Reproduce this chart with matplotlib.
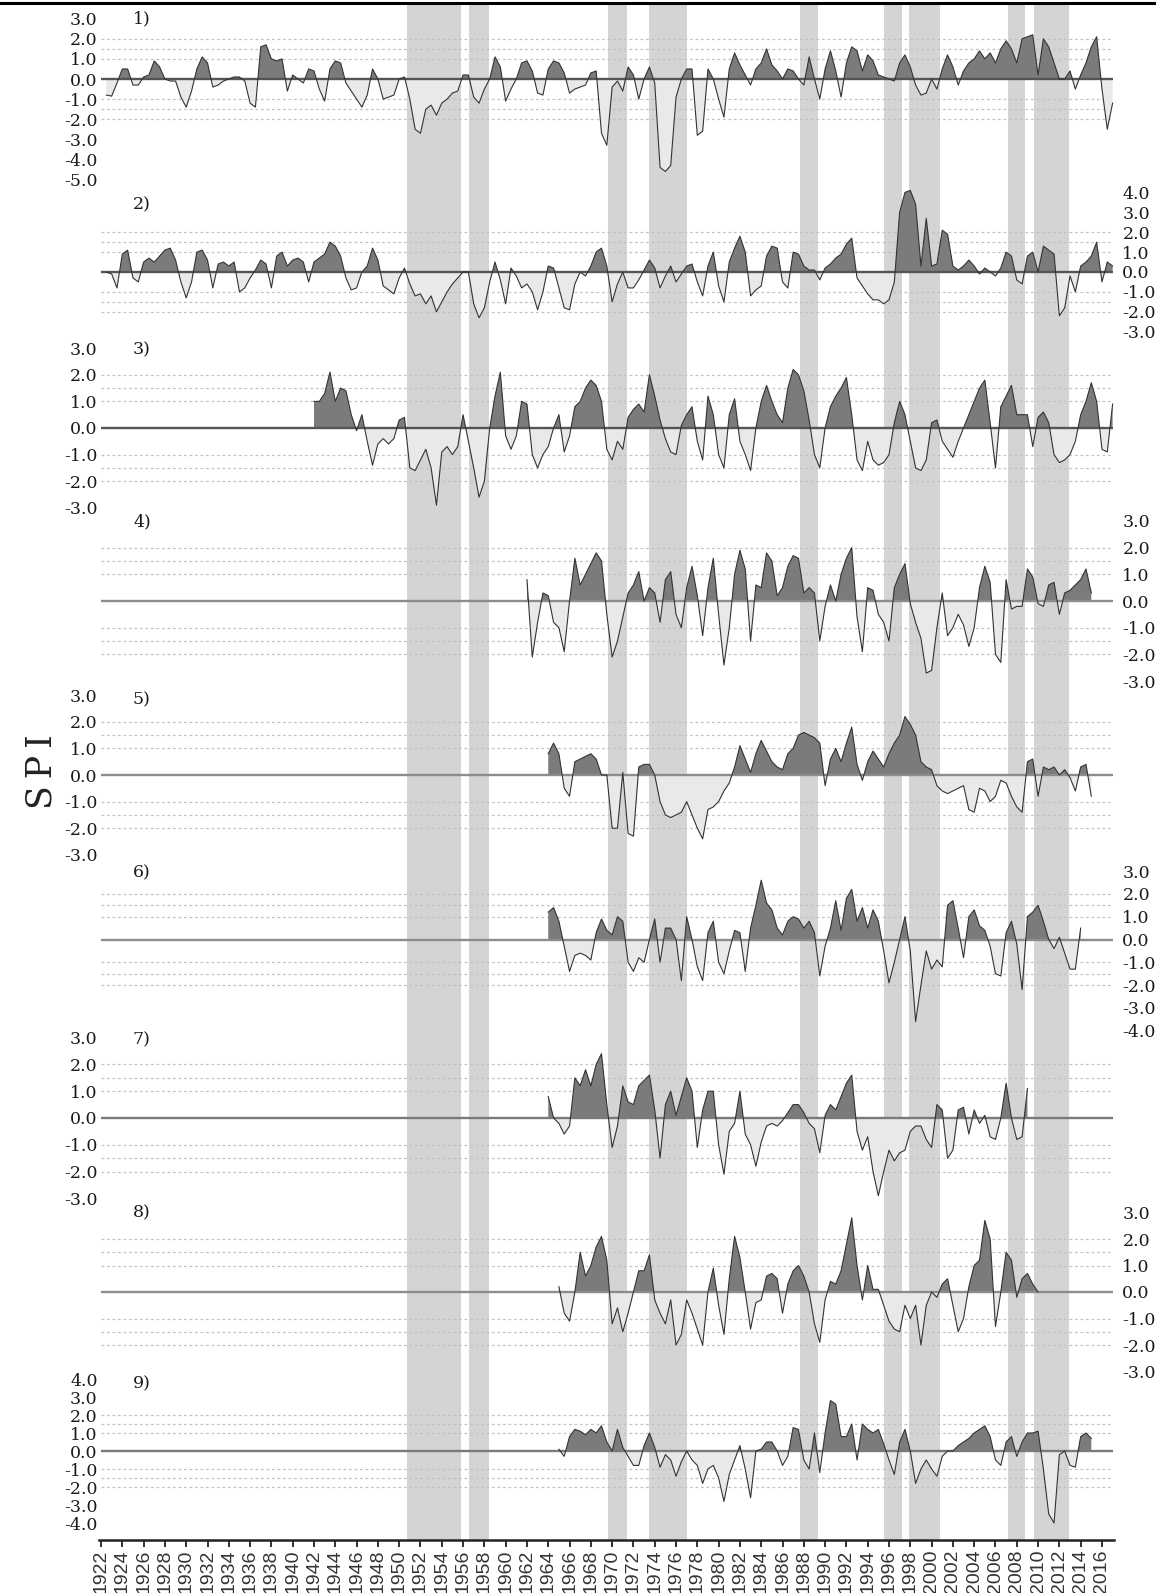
import matplotlib
matplotlib.use("Agg")
import matplotlib.pyplot as plt
import numpy as np
from matplotlib.lines import Line2D

# ---------------- data (SPI values, half-year steps) ----------------
P1_START = 1922.5
P1 = [-0.8, -0.85, -0.2, 0.5, 0.5, -0.3, -0.3, 0.1, 0.2, 0.9,
      0.6, 0.0, -0.1, -0.1, -0.9, -1.4, -0.6, 0.5, 1.1, 0.8,
      -0.4, -0.3, -0.1, 0.0, 0.1, 0.1, -0.1, -1.2, -1.4, 1.6,
      1.7, 1.0, 0.9, 1.0, -0.6, 0.2, 0.0, -0.2, 0.5, 0.4,
      -0.5, -1.1, 0.5, 0.9, 0.8, -0.2, -0.6, -1.0, -1.4, -0.8,
      0.5, 0.0, -1.0, -0.9, -0.8, 0.0, 0.1, -1.0, -2.5, -2.7,
      -1.5, -1.3, -1.8, -1.2, -1.0, -0.7, -0.6, 0.2, 0.2, -0.9,
      -1.2, -0.5, 0.0, 1.1, 0.6, -1.1, -0.5, 0.0, 0.8, 0.9,
      0.4, -0.7, -0.8, 0.5, 0.9, 0.8, 0.3, -0.7, -0.5, -0.4,
      -0.3, 0.3, 0.4, -2.7, -3.3, -0.4, -0.1, -0.6, 0.6, 0.2,
      -1.0, 0.0, 0.6, -0.2, -4.4, -4.6, -4.3, -0.9, 0.0, 0.5,
      0.5, -2.8, -2.6, 0.5, 0.0, -1.0, -1.9, 0.5, 1.3, 0.7,
      0.2, -0.3, 0.5, 0.8, 1.5, 0.7, 0.4, 0.0, 0.5, 0.4,
      0.0, -0.3, 1.1, 0.0, -1.0, 0.5, 1.4, 0.4, -0.9, 0.8,
      1.6, 1.4, 0.4, 1.2, 0.9, 0.2, 0.1, 0.0, -0.1, 0.8,
      1.2, 0.6, -0.3, -0.8, -0.7, 0.0, -0.5, 0.5, 1.2, 0.6,
      -0.3, 0.4, 0.8, 1.0, 1.4, 1.0, 1.3, 0.8, 1.5, 1.9,
      1.5, 0.8, 2.0, 2.1, 2.2, 0.2, 2.0, 1.6, 0.8, 0.0,
      0.0, 0.4, -0.5, 0.2, 0.8, 1.6, 2.1, -0.5, -2.5, -1.2]

P2_START = 1922.5
P2 = [0.0, -0.1, -0.8, 0.9, 1.1, -0.3, -0.5, 0.5, 0.7, 0.5,
      0.8, 1.1, 1.2, 0.6, -0.5, -1.3, -0.5, 1.0, 1.1, 0.6,
      -0.8, 0.4, 0.5, 0.3, 0.5, -1.0, -0.8, -0.3, 0.1, 0.6,
      0.4, -0.8, 0.8, 1.0, 0.3, 0.6, 0.7, 0.5, -0.5, 0.5,
      0.7, 0.9, 1.5, 1.3, 0.8, -0.3, -0.9, -0.8, 0.0, 0.3,
      1.2, 0.6, -0.7, -0.9, -1.1, -0.3, 0.2, -0.6, -1.2, -1.1,
      -1.6, -1.2, -2.0, -1.5, -1.0, -0.6, -0.3, 0.0, 0.0, -1.6,
      -2.3, -1.8, -0.5, 0.5, -0.4, -1.6, 0.2, -0.2, -0.8, -0.6,
      -1.0, -1.9, -1.0, 0.3, 0.2, -0.8, -1.8, -1.9, -0.6, 0.0,
      -0.2, 0.3, 1.0, 1.2, 0.3, -1.5, -0.6, 0.0, -0.8, -0.8,
      -0.4, 0.1, 0.6, 0.2, -0.8, -0.2, 0.3, -0.5, -0.1, 0.3,
      0.4, -0.5, -1.2, 0.3, 1.0, -0.7, -1.5, 0.5, 1.2, 1.8,
      1.0, -1.2, -0.9, -0.7, 0.8, 1.3, 1.2, -0.5, -0.8, 1.0,
      0.9, 0.3, 0.1, 0.1, -0.4, 0.2, 0.4, 0.7, 0.9, 1.4,
      1.7, -0.3, -0.7, -1.1, -1.4, -1.4, -1.6, -1.4, -0.5, 3.0,
      4.0, 4.1, 3.4, 0.3, 2.7, 0.3, 0.4, 2.1, 1.9, 0.3,
      0.1, 0.3, 0.6, 0.3, -0.1, 0.2, 0.0, -0.2, 0.2, 1.0,
      0.8, -0.4, -0.6, 0.8, 1.0, 0.0, 1.3, 1.1, 0.9, -2.2,
      -1.8, -0.2, -1.0, 0.3, 0.5, 0.8, 1.5, -0.5, 0.5, 0.3]

P3_START = 1942.0
P3 = [1.0, 1.0, 1.3, 2.1, 1.0, 1.5, 1.4, 0.5, -0.1, 0.5,
      -0.5, -1.4, -0.6, -0.4, -0.6, -0.4, 0.3, 0.4, -1.5, -1.6,
      -1.2, -0.8, -1.5, -2.9, -0.9, -0.7, -1.0, -0.7, 0.5, -0.5,
      -1.5, -2.6, -2.0, 0.0, 1.2, 2.1, -0.3, -0.8, -0.3, 1.0,
      0.9, -1.0, -1.5, -1.0, -0.7, 0.0, 0.5, -0.9, -0.3, 0.8,
      1.0, 1.5, 1.8, 1.6, 1.0, -0.8, -1.2, -0.5, -0.8, 0.4,
      0.7, 0.9, 0.6, 2.0, 1.2, 0.3, -0.4, -0.9, -1.0, 0.1,
      0.5, 0.8, -0.5, -1.2, 1.2, 0.5, -1.0, -1.5, 0.5, 1.1,
      -0.5, -1.0, -1.6, 0.0, 1.0, 1.6, 1.0, 0.5, 0.2, 1.5,
      2.2, 2.0, 1.4, 0.3, -1.0, -1.5, 0.0, 0.8, 1.2, 1.5,
      1.9, 0.5, -1.2, -1.6, -0.5, -1.2, -1.4, -1.3, -1.0, 0.2,
      1.0, 0.5, -0.5, -1.5, -1.6, -1.2, 0.2, 0.3, -0.5, -0.8,
      -1.1, -0.5, 0.0, 0.5, 1.0, 1.5, 1.8, 0.2, -1.5, 0.8,
      1.2, 1.6, 0.5, 0.5, 0.5, -0.7, 0.4, 0.6, 0.2, -1.0,
      -1.3, -1.2, -1.0, -0.5, 0.5, 1.0, 1.7, 1.0, -0.8, -0.9,
      0.9]

P4_START = 1962.0
P4 = [0.8, -2.1, -0.8, 0.3, 0.2, -0.8, -1.0, -1.9, 0.0, 1.6,
      0.6, 1.0, 1.4, 1.8, 1.5, -0.5, -2.1, -1.5, -0.6, 0.3,
      0.6, 1.1, 0.0, 0.5, 0.3, -0.8, 0.8, 1.1, -0.5, -1.0,
      0.5, 1.3, 0.2, -1.3, 0.5, 1.6, -0.5, -2.4, -1.0, 1.0,
      1.9, 1.2, -1.5, 0.6, 0.5, 1.8, 1.5, 0.2, 0.5, 1.3,
      1.7, 1.6, 0.3, 0.5, 0.3, -1.5, -0.2, 0.6, 0.0, 1.0,
      1.6, 2.0, -0.6, -1.9, 0.5, 0.4, -0.5, -0.8, -1.5, 0.5,
      1.0, 1.4, -0.1, -0.8, -1.4, -2.7, -2.6, -1.0, 0.3, -1.3,
      -1.0, -0.5, -0.9, -1.7, -1.0, 0.5, 1.3, 0.7, -2.0, -2.3,
      0.8, -0.3, -0.2, -0.2, 1.2, 0.9, -0.1, -0.2, 0.6, 0.7,
      -0.5, 0.3, 0.4, 0.6, 0.8, 1.2, 0.3]

P5_START = 1964.0
P5 = [0.8, 1.2, 0.8, -0.5, -0.8, 0.5, 0.6, 0.7, 0.8, 0.6,
      0.0, 0.0, -2.0, -2.0, 0.1, -2.2, -2.3, 0.3, 0.4, 0.4,
      0.0, -1.0, -1.5, -1.6, -1.5, -1.4, -1.0, -1.5, -2.0, -2.4,
      -1.3, -1.2, -1.0, -0.6, -0.3, 0.3, 1.1, 0.6, 0.1, 0.8,
      1.3, 0.9, 0.5, 0.3, 0.2, 0.8, 1.0, 1.5, 1.6, 1.5,
      1.4, 1.2, -0.4, 0.6, 1.0, 0.5, 1.2, 1.8, 0.4, -0.2,
      0.5, 0.9, 0.6, 0.3, 0.8, 1.2, 1.5, 2.2, 1.9, 1.5,
      0.5, 0.3, 0.2, -0.4, -0.6, -0.7, -0.6, -0.5, -0.4, -1.3,
      -1.4, -0.5, -0.6, -1.0, -0.8, -0.2, -0.3, -0.8, -1.2, -1.4,
      0.5, 0.6, -0.8, 0.3, 0.2, 0.3, 0.0, 0.2, -0.1, -0.6,
      0.3, 0.4, -0.8]

P6_START = 1964.0
P6 = [1.2, 1.4, 0.8, -0.3, -1.4, -0.7, -0.6, -0.7, -0.9, 0.3,
      0.9, 0.4, 0.2, 1.0, 0.8, -1.0, -1.4, -0.8, -1.0, 0.0,
      0.9, -1.0, 0.5, 0.5, 0.0, -1.8, 1.0, 0.0, -1.2, -1.8,
      0.3, 0.8, -1.0, -1.5, -0.5, 0.4, 0.3, -1.4, 0.5, 1.5,
      2.6, 1.6, 1.3, 0.5, 0.2, 0.8, 1.0, 0.9, 0.5, 0.8,
      0.3, -1.6, -0.3, 0.5, 1.7, 0.4, 1.8, 2.2, 0.8, 1.4,
      0.5, 1.3, 0.8, -0.5, -1.9, -1.0, 0.0, 1.0, -0.5, -3.6,
      -2.0, -0.5, -1.3, -0.9, -1.2, 1.5, 1.7, 0.5, -0.8, 1.0,
      1.3, 0.6, 0.4, -0.3, -1.5, -1.6, 0.3, 0.8, -0.2, -2.2,
      1.0, 1.2, 1.5, 0.8, 0.0, -0.4, 0.1, -0.6, -1.3, -1.3,
      0.5]

P7_START = 1964.0
P7 = [0.8, 0.0, -0.2, -0.6, -0.3, 1.5, 1.2, 1.8, 1.2, 2.0,
      2.4, 0.5, -1.1, -0.3, 1.2, 0.6, 0.5, 1.2, 1.4, 1.6,
      0.3, -1.5, 0.5, 1.0, 0.1, 0.8, 1.5, 1.0, -1.1, 0.3,
      1.0, 1.0, -1.0, -2.1, -0.5, -0.2, 1.0, -0.6, -1.0, -1.8,
      -0.9, -0.3, -0.2, -0.3, -0.1, 0.2, 0.5, 0.5, 0.2, -0.2,
      -0.4, -1.3, 0.1, 0.5, 0.3, 0.8, 1.3, 1.6, -0.5, -1.2,
      -0.7, -2.0, -2.9, -2.0, -1.2, -1.6, -1.3, -1.2, -0.5, -0.3,
      -0.3, -0.8, -1.1, 0.5, 0.3, -1.5, -1.2, 0.3, 0.4, -0.6,
      0.3, -0.2, 0.1, -0.7, -0.8, 0.0, 1.3, 0.0, -0.8, -0.7,
      1.1]

P8_START = 1965.0
P8 = [0.2, -0.8, -1.1, 0.0, 1.5, 0.6, 1.0, 1.7, 2.1, 1.2,
      -1.2, -0.6, -1.5, -0.8, 0.0, 0.8, 0.8, 1.4, -0.3, -0.8,
      -1.2, -0.3, -2.0, -1.6, -0.3, -0.8, -1.4, -2.0, 0.0, 0.9,
      -0.5, -1.6, 0.5, 2.1, 1.3, 0.0, -1.4, -0.4, -0.3, 0.6,
      0.7, 0.5, -0.8, 0.3, 0.8, 1.0, 0.6, 0.0, -1.2, -1.9,
      -0.3, 0.4, 0.3, 0.8, 1.8, 2.8, 1.0, -0.3, 1.0, 0.1,
      0.1, -0.5, -1.1, -1.4, -1.5, -0.5, -1.0, -0.5, -2.0, -0.5,
      0.0, -0.2, 0.3, 0.5, -0.5, -1.5, -1.0, 0.2, 1.0, 1.2,
      2.7, 2.0, -1.3, 0.0, 1.5, 1.2, -0.2, 0.5, 0.7, 0.3,
      0.0]

P9_START = 1965.0
P9 = [0.1, -0.3, 0.8, 1.2, 1.1, 0.9, 1.2, 1.0, 1.4, 0.5,
      0.0, 1.2, 0.2, -0.3, -0.8, -0.8, 0.3, 1.0, 0.2, -0.9,
      -0.2, -0.5, -1.4, -0.6, 0.0, -0.5, -0.8, -1.8, -1.0, -0.8,
      -1.5, -2.8, -1.3, -0.5, 0.3, -1.0, -2.6, 0.0, 0.1, 0.5,
      0.5, 0.0, -0.8, -0.3, 1.3, 1.2, -0.5, -1.0, 1.0, -1.2,
      1.0, 2.8, 2.6, 0.8, 0.8, 1.5, -0.5, 1.5, 1.2, 1.0,
      1.2, 0.4, -0.5, -1.3, 0.5, 1.2, 0.0, -1.8, -1.0, -0.5,
      -1.0, -1.4, -0.3, 0.0, 0.0, 0.3, 0.5, 0.7, 1.0, 1.2,
      1.4, 0.8, -0.5, -0.8, 0.5, 0.8, -0.3, 0.5, 1.0, 1.0,
      1.1, -1.0, -3.5, -4.0, -0.2, 0.0, -0.8, -0.9, 0.8, 1.0,
      0.7]

SERIES = [(P1_START, P1), (P2_START, P2), (P3_START, P3),
          (P4_START, P4), (P5_START, P5), (P6_START, P6),
          (P7_START, P7), (P8_START, P8), (P9_START, P9)]

PANEL_NAMES = ["1)", "2)", "3)", "4)", "5)", "6)", "7)", "8)", "9)"]
PANEL_TICKS = [
    [3, 2, 1, 0, -1, -2, -3, -4, -5],
    [4, 3, 2, 1, 0, -1, -2, -3],
    [3, 2, 1, 0, -1, -2, -3],
    [3, 2, 1, 0, -1, -2, -3],
    [3, 2, 1, 0, -1, -2, -3],
    [3, 2, 1, 0, -1, -2, -3, -4],
    [3, 2, 1, 0, -1, -2, -3],
    [3, 2, 1, 0, -1, -2, -3],
    [4, 3, 2, 1, 0, -1, -2, -3, -4],
]
GRID_LEVELS = [1.0, 1.5, 2.0, -1.0, -1.5, -2.0]

DROUGHT_BANDS = [(1950.7, 1955.8), (1956.6, 1958.45), (1969.65, 1971.4),
                 (1973.45, 1977.05), (1987.65, 1989.3), (1995.55, 1997.2),
                 (1997.85, 2000.75), (2007.15, 2008.75), (2009.65, 2012.9)]

YEAR_TICKS = list(range(1922, 2017, 2))

# ---------------- layout ----------------
W, H = 1156, 1593
fig = plt.figure(figsize=(W / 100, H / 100), dpi=100)

def fx(px):
    return px / W

def fy(py):
    return 1 - py / H

AX_L, AX_R = 99, 1114
X0, X1 = 1921.81, 2017.13
ZERO_PX = [79, 272, 428, 601, 775, 939.5, 1118, 1292, 1451]
UNIT_PX = [20.1, 19.9, 26.6, 26.7, 26.6, 22.8, 26.8, 26.5, 18.0]
SIDES = ["left", "right", "left", "right", "left", "right", "left", "right", "left"]
LABEL_Y = [19, 205, 350, 522, 700, 873, 1040, 1213, 1384]
ZERO_COL = ["#555555", "#555555", "#555555", "#8c8c8c", "#8c8c8c",
            "#8c8c8c", "#7a7a7a", "#8c8c8c", "#7a7a7a"]

SERIF = "DejaVu Serif"
POS_COL = "#7b7b7b"
NEG_COL = "#e9e9e9"
BAND_COL = "#d4d4d4"

# top rule
fig.add_artist(Line2D([0, 1], [fy(2.5), fy(2.5)], color="black", lw=2.2,
                      transform=fig.transFigure))

# background axes: drought bands + year axis
BG_TOP, BG_BOT = 5, 1540
bg = fig.add_axes([fx(AX_L), fy(BG_BOT), fx(AX_R - AX_L), (BG_BOT - BG_TOP) / H])
bg.set_xlim(X0, X1)
bg.set_ylim(0, 1)
for a, b in DROUGHT_BANDS:
    bg.axvspan(a, b, color=BAND_COL, lw=0, zorder=0)
for s in ["top", "left", "right"]:
    bg.spines[s].set_visible(False)
bg.spines["bottom"].set_linewidth(1.8)
bg.spines["bottom"].set_color("#222222")
bg.set_yticks([])
bg.set_xticks(YEAR_TICKS)
bg.set_xticklabels([str(y) for y in YEAR_TICKS], rotation=90,
                   fontsize=14, family="Liberation Sans", color="#333333")
bg.tick_params(axis="x", length=5, width=1.3, pad=2, color="#222222")
bg.patch.set_visible(False)

# panels
for i, (start, vals) in enumerate(SERIES):
    z, u = ZERO_PX[i], UNIT_PX[i]
    top, bot = z - 5.6 * u, z + 5.6 * u
    ax = fig.add_axes([fx(AX_L), fy(bot), fx(AX_R - AX_L), (bot - top) / H])
    ax.set_xlim(X0, X1)
    ax.set_ylim(-5.6, 5.6)
    ax.patch.set_visible(False)
    for s in ax.spines.values():
        s.set_visible(False)
    v = np.array(vals, dtype=float)
    t = start + 0.5 * np.arange(len(v))
    ax.hlines(GRID_LEVELS, 1922, 2017, colors="#c2c2c2", lw=0.9,
              linestyles=(0, (2.2, 2.2)), zorder=1)
    ax.fill_between(t, v, 0, where=v >= 0, interpolate=True,
                    color=POS_COL, lw=0, zorder=2)
    ax.fill_between(t, v, 0, where=v <= 0, interpolate=True,
                    color=NEG_COL, lw=0, zorder=2)
    ax.hlines(0, 1922, 2017, colors=ZERO_COL[i], lw=1.7, zorder=3)
    ax.plot(t, v, color="#333333", lw=0.8, zorder=4)
    ax.set_xticks([])
    ticks = PANEL_TICKS[i]
    ax.set_yticks(ticks)
    ax.set_yticklabels([f"{k:.1f}" for k in ticks], family=SERIF,
                       fontsize=12.5, color="#1a1a1a")
    if SIDES[i] == "right":
        ax.yaxis.tick_right()
        ax.tick_params(axis="y", length=0, pad=6)
    else:
        ax.tick_params(axis="y", length=0, pad=1)
    fig.text(fx(133), fy(LABEL_Y[i]), PANEL_NAMES[i], ha="left", va="center",
             family=SERIF, fontsize=12.5, color="#1a1a1a")

fig.text(fx(41), fy(772), "S\u2009P\u2009I", rotation=90, ha="center",
         va="center", family=SERIF, fontsize=25, color="#222222")

fig.savefig("out.png", dpi=100)
